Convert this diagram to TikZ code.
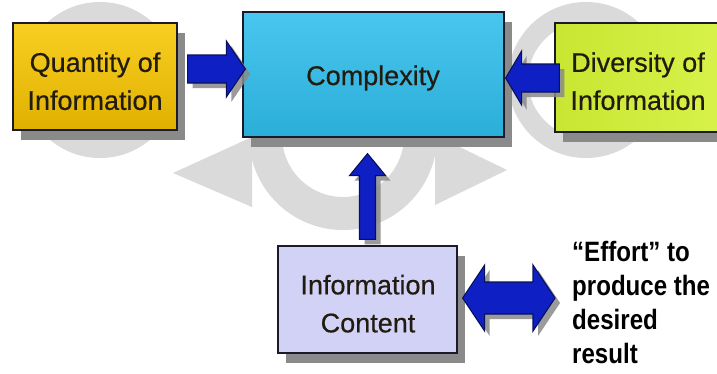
\documentclass[tikz,border=0pt]{standalone}
\usepackage{fontspec}
\setmainfont{Liberation Sans}
\newfontfamily\boxfont[FakeBold=0.5]{Liberation Sans}
\newfontfamily\effortfont[FakeStretch=0.86]{Liberation Sans}
\usetikzlibrary{calc,shadows}

\definecolor{qtop}{HTML}{F8CF22}
\definecolor{qbot}{HTML}{E0B000}
\definecolor{ctop}{HTML}{4AC6EF}
\definecolor{cbot}{HTML}{2AAED8}
\definecolor{dleft}{HTML}{C8E632}
\definecolor{dright}{HTML}{D8F24A}
\definecolor{icol}{HTML}{D2D2F6}
\definecolor{boxline}{HTML}{1A1A2A}
\definecolor{textcol}{HTML}{221C10}
\definecolor{arrowblue}{HTML}{0E20C4}
\definecolor{arrowedge}{HTML}{08105A}
\definecolor{shadowgrey}{HTML}{8A8A8A}
\definecolor{wmgrey}{HTML}{DADADA}

% block arrow from #1 to #2: half shaft #3, half head #4, head length #5 (pt)
\newcommand\singlearrow[5]{%
  \path[arrowbody] let \p1=#1, \p2=#2,
    \n1={atan2(\y2-\y1,\x2-\x1)}, \n2={veclen(\x2-\x1,\y2-\y1)} in
    [shift={(\p1)}, rotate=\n1]
    (0pt,{-#3pt}) -- ({\n2-#5pt},{-#3pt}) -- ({\n2-#5pt},{-#4pt})
    -- ({\n2},0pt) -- ({\n2-#5pt},{#4pt}) -- ({\n2-#5pt},{#3pt})
    -- (0pt,{#3pt}) -- cycle;}
% block arrow with heads at both ends
\newcommand\doublearrow[5]{%
  \path[arrowbody] let \p1=#1, \p2=#2,
    \n1={atan2(\y2-\y1,\x2-\x1)}, \n2={veclen(\x2-\x1,\y2-\y1)} in
    [shift={(\p1)}, rotate=\n1]
    (0pt,0pt) -- (#5pt,{-#4pt}) -- (#5pt,{-#3pt}) -- ({\n2-#5pt},{-#3pt})
    -- ({\n2-#5pt},{-#4pt}) -- ({\n2},0pt) -- ({\n2-#5pt},{#4pt})
    -- ({\n2-#5pt},{#3pt}) -- (#5pt,{#3pt}) -- (#5pt,{#4pt}) -- cycle;}

\begin{document}
\begin{tikzpicture}[x=1pt,y=-1pt,
  box/.style={draw=boxline, line width=1.3pt, inner sep=0pt,
    drop shadow={shadow xshift=8pt, shadow yshift=-10pt, fill=shadowgrey, opacity=1}},
  lbl/.style={text=textcol, font=\boxfont\fontsize{27}{38}\selectfont,
    align=center, inner sep=0pt},
  effort/.style={text=black, font=\effortfont\bfseries\fontsize{28}{34}\selectfont,
    align=left, inner sep=0pt},
  arrowbody/.style={fill=arrowblue, draw=arrowedge, line width=1.1pt, line join=miter,
    drop shadow={shadow xshift=5pt, shadow yshift=-5pt, fill=shadowgrey, opacity=0.85}},
  wmark/.style={fill=wmgrey}]

\useasboundingbox (0,0) rectangle (717,373);
\fill[white] (0,0) rectangle (717,373);

% faint emblem in the background
\fill[wmark, even odd rule] (343,136) circle[radius=94] (343,136) circle[radius=61];
\fill[wmark] (173,173) -- (252,137) -- (252,207) -- cycle;
\fill[wmark] (507,170) -- (435,135) -- (435,205) -- cycle;
\fill[wmark, even odd rule] (100,80) circle[radius=78] (100,80) circle[radius=58];
\fill[wmark, even odd rule] (586,80) circle[radius=78] (586,80) circle[radius=58];

% boxes
\node[box, top color=qtop, bottom color=qbot, minimum width=164pt, minimum height=107pt]
  (qbox) at (95,76.5) {};
\node[box, top color=ctop, bottom color=cbot, minimum width=261pt, minimum height=125pt]
  (cbox) at (373.5,74.5) {};
\node[box, left color=dleft, right color=dright, minimum width=170pt, minimum height=109pt]
  (dbox) at (640,77.5) {};
\node[box, fill=icol, minimum width=179pt, minimum height=107pt]
  (ibox) at (367.5,299.5) {};

% labels
\node[lbl] (qtext) at (95,81.2) {Quantity of\\Information};
\node[lbl, anchor=base] (ctext) at (373,85) {Complexity};
\node[lbl] (dtext) at (638,81.2) {Diversity of\\Information};
\node[lbl] (itext) at (368,303.7) {Information\\Content};
\node[effort, anchor=west] (etext) at (572,302.8)
  {“Effort” to\\produce the\\desired\\result};

% connectors
\singlearrow{($(qbox.east)+(10,-7.5)$)}{($(cbox.west)+(3,-5.5)$)}{14}{28}{19}
\singlearrow{($(dbox.west)+(5,0.5)$)}{($(cbox.east)+(1,3.5)$)}{14}{27}{16}
\singlearrow{($(ibox.north)+(0,-6)$)}{($(cbox.south)+(-6,16)$)}{8}{18}{22}
\doublearrow{($(ibox.east)+(5,-1.5)$)}{($(etext.west)+(-17,-4.8)$)}{16}{33}{22}

\end{tikzpicture}
\end{document}
